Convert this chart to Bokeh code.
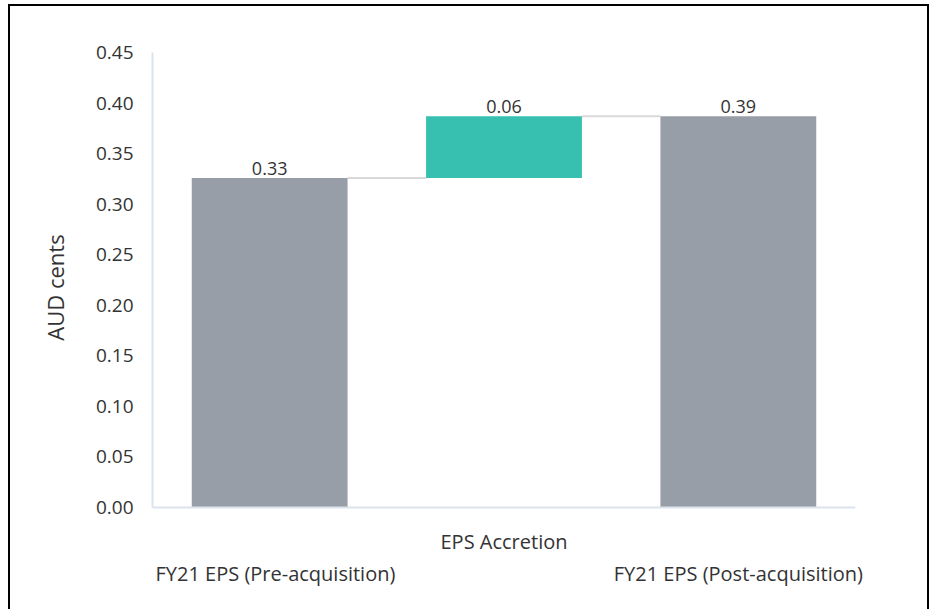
from bokeh.plotting import figure
from bokeh.layouts import column
from bokeh.models import (ColumnDataSource, Range1d, FixedTicker, Span,
                          CustomJSTickFormatter)
from bokeh.core.properties import value
from bokeh.transform import dodge
from bokeh.embed import file_html
from bokeh.resources import INLINE

categories = ["FY21 EPS (Pre-acquisition)", "EPS Accretion", "FY21 EPS (Post-acquisition)"]
values = [0.326, 0.061, 0.387]
labels = ["0.33", "0.06", "0.39"]
kinds = ["total", "delta", "total"]
y_ticks = [0.0, 0.05, 0.10, 0.15, 0.20, 0.25, 0.30, 0.35, 0.40, 0.45]

GRAY = "#989ea8"
TEAL = "#37bfb0"
TXT = "#333333"
AXC = "#dbe3ec"
FONT = "Open Sans"

bottoms, tops, colors = [], [], []
run = 0.0
for v, k in zip(values, kinds):
    if k == "total":
        bottoms.append(0.0)
        tops.append(v)
        run = v
        colors.append(GRAY)
    else:
        bottoms.append(run)
        tops.append(run + v)
        run = run + v
        colors.append(TEAL)

src = ColumnDataSource(dict(cat=categories, bottom=bottoms, top=tops, color=colors, lab=labels))

W = 0.665
conn = ColumnDataSource(dict(x0=categories[:-1], x1=categories[1:], y=tops[:-1]))

# ---- layout (pixels)
FW, FH = 703, 455          # plot frame for 0 .. 0.45
ML, MT, MR = 142, 46, 72
EXTRA = 15                 # px below zero so the axis line and the 0.00 label are not clipped
TOTAL_W = ML + FW + MR
STRIP_H = 603 - (MT + FH + EXTRA)
YMAX = 0.45

p = figure(x_range=categories,
           y_range=Range1d(-YMAX * EXTRA / FH, YMAX),
           frame_width=FW, frame_height=FH + EXTRA,
           output_backend="svg", toolbar_location=None, x_axis_location=None,
           min_border_left=ML, min_border_right=MR, min_border_top=MT, min_border_bottom=0)
p.outline_line_color = None
p.grid.visible = False

p.add_layout(Span(location=0, dimension="width", line_color=AXC, line_width=2))

p.segment(x0=dodge("x0", W / 2, range=p.x_range), y0="y",
          x1=dodge("x1", -W / 2, range=p.x_range), y1="y",
          source=conn, line_color="#d9d9d9", line_width=2)
p.vbar(x="cat", bottom="bottom", top="top", width=W, fill_color="color",
       line_color=None, source=src)

p.text(x="cat", y="top", text="lab", source=src, text_align="center",
       text_baseline="bottom", y_offset=-3, text_font=value(FONT),
       text_font_size="18px", text_color=TXT)

ya = p.yaxis[0]
ya.ticker = FixedTicker(ticks=y_ticks)
ya.bounds = (0, YMAX)
ya.formatter = CustomJSTickFormatter(code="return tick.toFixed(2);")
ya.axis_line_color = AXC
ya.axis_line_width = 2
ya.major_tick_line_color = None
ya.minor_tick_line_color = None
ya.major_label_standoff = 13
ya.major_label_text_font = FONT
ya.major_label_text_font_size = "19px"
ya.major_label_text_color = TXT
ya.axis_label = "AUD cents"
ya.axis_label_text_font = FONT
ya.axis_label_text_font_size = "22px"
ya.axis_label_text_font_style = "normal"
ya.axis_label_text_color = TXT
ya.axis_label_standoff = 23

# ---- category label strip (staggered labels, as in the original)
px_per_cat = FW / len(categories)
strip_w = TOTAL_W - ML
xs = list(range(len(categories)))
row_from_top = [66 - EXTRA if i % 2 == 0 else 34 - EXTRA for i in xs]   # px below the strip top
lab_x = [x if 0 < x else x - 0.5 for x in xs]
lab_align = ["center" if 0 < x else "left" for x in xs]
lab_xoff = [0 if 0 < x else 3 for x in xs]
strip_src = ColumnDataSource(dict(x=lab_x, y=[STRIP_H - r for r in row_from_top],
                                  text=categories, align=lab_align, xoff=lab_xoff))

p2 = figure(x_range=Range1d(-0.5, -0.5 + strip_w / px_per_cat),
            y_range=Range1d(0, STRIP_H),
            frame_width=strip_w, frame_height=STRIP_H,
            output_backend="svg", toolbar_location=None,
            x_axis_location=None, y_axis_location=None,
            min_border_left=ML, min_border_right=0, min_border_top=0, min_border_bottom=0)
p2.outline_line_color = None
p2.grid.visible = False
p2.text(x="x", y="y", text="text", source=strip_src, text_align="align",
        x_offset="xoff", text_baseline="middle", text_font=value(FONT),
        text_font_size="20px", text_color=TXT)

layout = column(p, p2, spacing=0,
                styles={"border": "2px solid black", "border-bottom": "none",
                        "margin-left": "8px", "margin-top": "4px"})

open("out.html", "w").write(file_html(layout, INLINE))
